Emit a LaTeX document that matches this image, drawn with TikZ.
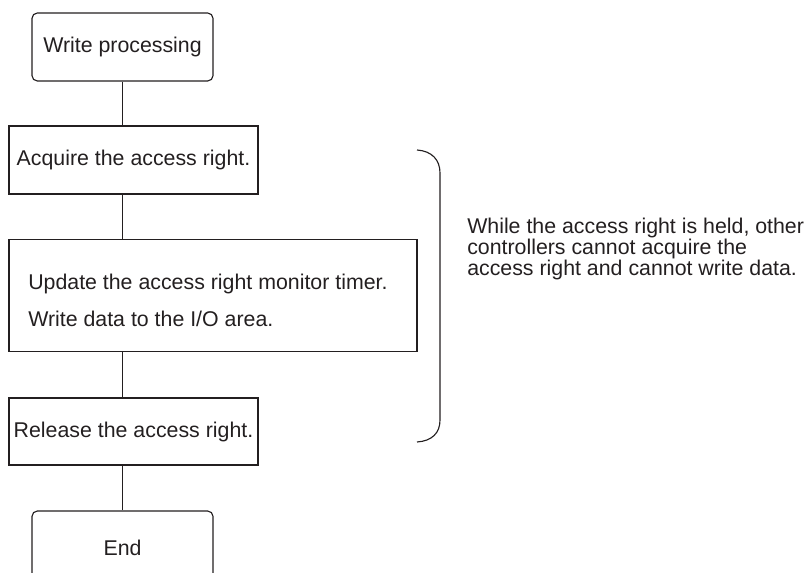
\documentclass[tikz,border=0pt]{standalone}
\usepackage{fontspec}
\setmainfont{Liberation Sans}
\definecolor{ink}{HTML}{231F20}
\begin{document}
\begin{tikzpicture}[x=0.75pt,y=-0.75pt,
  every node/.style={text=ink,font=\fontsize{16pt}{12.75pt}\selectfont},
  rbox/.style={draw=ink,line width=0.85pt,rounded corners=4pt,inner sep=0pt},
  sbox/.style={draw=ink,line width=0.85pt,inner sep=0pt},
  link/.style={draw=ink,line width=0.85pt},
  txt/.style={inner sep=0pt,anchor=base west}]
\path[use as bounding box] (0,0) rectangle (805,573);
\clip (0,0) rectangle (805,573);
\node[rbox,minimum width=135.75pt,minimum height=51pt] (wp) at (122.5,47) {Write processing};
\node[sbox,minimum width=186.75pt,minimum height=51pt] (acq) at (133.5,160) {Acquire the access right.};
\node[sbox,minimum width=306pt,minimum height=84pt] (upd) at (213,295.5) {};
\node[txt] (upd1) at (28,289) {Update the access right monitor timer.};
\node[txt] (upd2) at (28,326) {Write data to the I/O area.};
\node[sbox,minimum width=186.75pt,minimum height=50.25pt] (rel) at (133.5,431.5) {Release the access right.};
\node[rbox,minimum width=135.75pt,minimum height=51pt] (endb) at (122.5,545) {};
\node (endt) at (122.5,547.5) {End};
\draw[link] (wp.south) -- (wp.south |- acq.north);
\draw[link] (wp.south |- acq.south) -- (wp.south |- upd.north);
\draw[link] (wp.south |- upd.south) -- (wp.south |- rel.north);
\draw[link] (wp.south |- rel.south) -- (endb.north);
\draw[link] (417,150) .. controls (432,151) and (440,160) .. (440,173) -- (440,420)
  .. controls (440,433) and (432,441) .. (417,442);
\node[txt,align=left] (note) at (467,276) {While the access right is held, other\\controllers cannot acquire the\\access right and cannot write data.};
\end{tikzpicture}
\end{document}
